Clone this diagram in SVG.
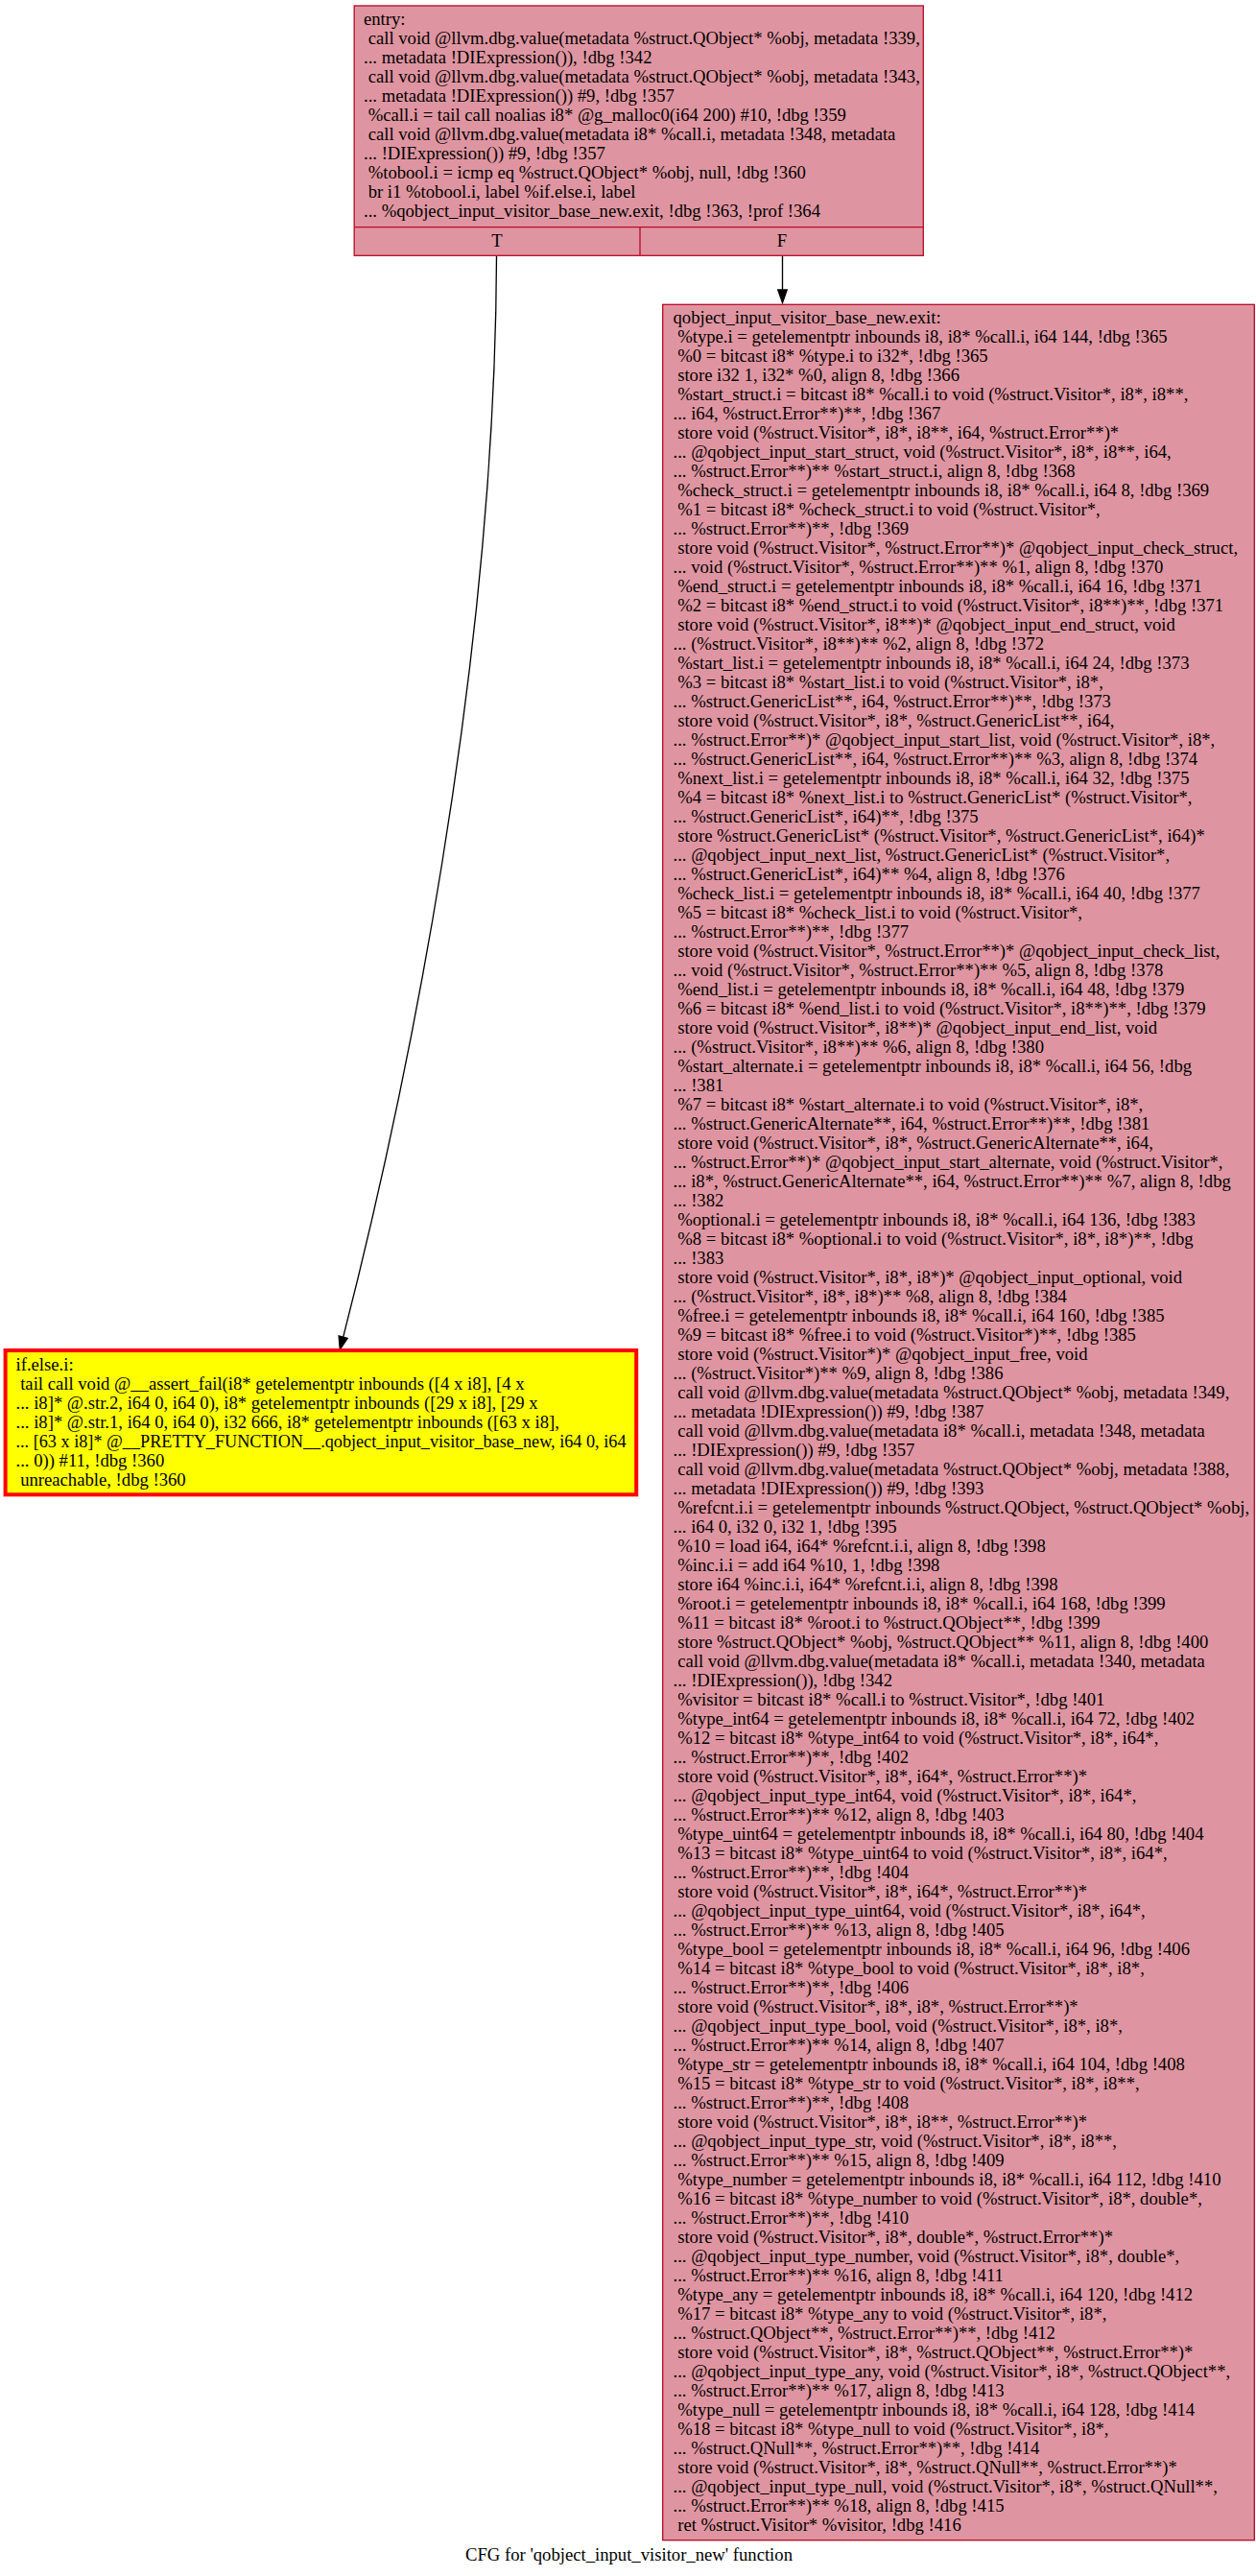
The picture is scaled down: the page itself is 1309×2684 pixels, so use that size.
<svg xmlns="http://www.w3.org/2000/svg" width="1309" height="2684" viewBox="0 0 1309 2684" xml:space="preserve">
<style>
text{font-family:"Liberation Serif","Times New Roman",serif;font-size:18.67px;fill:#000;white-space:pre}
.blk{fill:#df95a1;stroke:#b70d28;stroke-width:1.33}
.sep{stroke:#b70d28;stroke-width:1.33;fill:none}
.warn{fill:#ffff00;stroke:#ff0000;stroke-width:4}
.edge{fill:none;stroke:#000;stroke-width:1.33}
.head{fill:#000;stroke:#000;stroke-width:1.33}
.mid{text-anchor:middle}
</style>
<rect width="1309" height="2684" fill="#fff"/>
<g id="edges">
<path class="edge" d="M517.5,267 C516,700 420,1150 357.7,1393.1"/>
<polygon class="head" points="362.2,1394.3 354.3,1406 353.1,1391.9"/>
<path class="edge" d="M815.5,267 L815.5,302"/>
<polygon class="head" points="810.8,302 815.5,315.5 820.2,302"/>
</g>
<g id="entry">
<rect class="blk" x="369.2" y="6" width="593.1" height="260.3"/>
<path class="sep" d="M369.2,236.7 H962.3 M667,236.7 V266.3"/>
<text x="379" y="26">entry:</text>
<text x="379" y="46"> call void @llvm.dbg.value(metadata %struct.QObject* %obj, metadata !339,</text>
<text x="379" y="66">... metadata !DIExpression()), !dbg !342</text>
<text x="379" y="86"> call void @llvm.dbg.value(metadata %struct.QObject* %obj, metadata !343,</text>
<text x="379" y="106">... metadata !DIExpression()) #9, !dbg !357</text>
<text x="379" y="126"> %call.i = tail call noalias i8* @g_malloc0(i64 200) #10, !dbg !359</text>
<text x="379" y="146"> call void @llvm.dbg.value(metadata i8* %call.i, metadata !348, metadata</text>
<text x="379" y="166">... !DIExpression()) #9, !dbg !357</text>
<text x="379" y="186"> %tobool.i = icmp eq %struct.QObject* %obj, null, !dbg !360</text>
<text x="379" y="206"> br i1 %tobool.i, label %if.else.i, label</text>
<text x="379" y="226">... %qobject_input_visitor_base_new.exit, !dbg !363, !prof !364</text>
<text class="mid" x="518" y="257">T</text>
<text class="mid" x="815" y="257">F</text>
</g>
<g id="if_else_i">
<rect class="warn" x="5.6" y="1407" width="657.6" height="150.3"/>
<text x="16.5" y="1427.5">if.else.i:</text>
<text x="16.5" y="1447.5"> tail call void @__assert_fail(i8* getelementptr inbounds ([4 x i8], [4 x</text>
<text x="16.5" y="1467.5">... i8]* @.str.2, i64 0, i64 0), i8* getelementptr inbounds ([29 x i8], [29 x</text>
<text x="16.5" y="1487.5">... i8]* @.str.1, i64 0, i64 0), i32 666, i8* getelementptr inbounds ([63 x i8],</text>
<text x="16.5" y="1507.5" textLength="636" lengthAdjust="spacingAndGlyphs">... [63 x i8]* @__PRETTY_FUNCTION__.qobject_input_visitor_base_new, i64 0, i64</text>
<text x="16.5" y="1527.5">... 0)) #11, !dbg !360</text>
<text x="16.5" y="1547.5"> unreachable, !dbg !360</text>
</g>
<g id="qobject_input_visitor_base_new_exit">
<rect class="blk" x="690.7" y="317.3" width="616.6" height="2329.4"/>
<text x="701.5" y="337.4">qobject_input_visitor_base_new.exit:</text>
<text x="701.5" y="357.4"> %type.i = getelementptr inbounds i8, i8* %call.i, i64 144, !dbg !365</text>
<text x="701.5" y="377.4"> %0 = bitcast i8* %type.i to i32*, !dbg !365</text>
<text x="701.5" y="397.4"> store i32 1, i32* %0, align 8, !dbg !366</text>
<text x="701.5" y="417.4"> %start_struct.i = bitcast i8* %call.i to void (%struct.Visitor*, i8*, i8**,</text>
<text x="701.5" y="437.4">... i64, %struct.Error**)**, !dbg !367</text>
<text x="701.5" y="457.4"> store void (%struct.Visitor*, i8*, i8**, i64, %struct.Error**)*</text>
<text x="701.5" y="477.4">... @qobject_input_start_struct, void (%struct.Visitor*, i8*, i8**, i64,</text>
<text x="701.5" y="497.4">... %struct.Error**)** %start_struct.i, align 8, !dbg !368</text>
<text x="701.5" y="517.4"> %check_struct.i = getelementptr inbounds i8, i8* %call.i, i64 8, !dbg !369</text>
<text x="701.5" y="537.4"> %1 = bitcast i8* %check_struct.i to void (%struct.Visitor*,</text>
<text x="701.5" y="557.4">... %struct.Error**)**, !dbg !369</text>
<text x="701.5" y="577.4"> store void (%struct.Visitor*, %struct.Error**)* @qobject_input_check_struct,</text>
<text x="701.5" y="597.4">... void (%struct.Visitor*, %struct.Error**)** %1, align 8, !dbg !370</text>
<text x="701.5" y="617.4"> %end_struct.i = getelementptr inbounds i8, i8* %call.i, i64 16, !dbg !371</text>
<text x="701.5" y="637.4"> %2 = bitcast i8* %end_struct.i to void (%struct.Visitor*, i8**)**, !dbg !371</text>
<text x="701.5" y="657.4"> store void (%struct.Visitor*, i8**)* @qobject_input_end_struct, void</text>
<text x="701.5" y="677.4">... (%struct.Visitor*, i8**)** %2, align 8, !dbg !372</text>
<text x="701.5" y="697.4"> %start_list.i = getelementptr inbounds i8, i8* %call.i, i64 24, !dbg !373</text>
<text x="701.5" y="717.4"> %3 = bitcast i8* %start_list.i to void (%struct.Visitor*, i8*,</text>
<text x="701.5" y="737.4">... %struct.GenericList**, i64, %struct.Error**)**, !dbg !373</text>
<text x="701.5" y="757.4"> store void (%struct.Visitor*, i8*, %struct.GenericList**, i64,</text>
<text x="701.5" y="777.4">... %struct.Error**)* @qobject_input_start_list, void (%struct.Visitor*, i8*,</text>
<text x="701.5" y="797.4">... %struct.GenericList**, i64, %struct.Error**)** %3, align 8, !dbg !374</text>
<text x="701.5" y="817.4"> %next_list.i = getelementptr inbounds i8, i8* %call.i, i64 32, !dbg !375</text>
<text x="701.5" y="837.4"> %4 = bitcast i8* %next_list.i to %struct.GenericList* (%struct.Visitor*,</text>
<text x="701.5" y="857.4">... %struct.GenericList*, i64)**, !dbg !375</text>
<text x="701.5" y="877.4"> store %struct.GenericList* (%struct.Visitor*, %struct.GenericList*, i64)*</text>
<text x="701.5" y="897.4">... @qobject_input_next_list, %struct.GenericList* (%struct.Visitor*,</text>
<text x="701.5" y="917.4">... %struct.GenericList*, i64)** %4, align 8, !dbg !376</text>
<text x="701.5" y="937.4"> %check_list.i = getelementptr inbounds i8, i8* %call.i, i64 40, !dbg !377</text>
<text x="701.5" y="957.4"> %5 = bitcast i8* %check_list.i to void (%struct.Visitor*,</text>
<text x="701.5" y="977.4">... %struct.Error**)**, !dbg !377</text>
<text x="701.5" y="997.4"> store void (%struct.Visitor*, %struct.Error**)* @qobject_input_check_list,</text>
<text x="701.5" y="1017.4">... void (%struct.Visitor*, %struct.Error**)** %5, align 8, !dbg !378</text>
<text x="701.5" y="1037.4"> %end_list.i = getelementptr inbounds i8, i8* %call.i, i64 48, !dbg !379</text>
<text x="701.5" y="1057.4"> %6 = bitcast i8* %end_list.i to void (%struct.Visitor*, i8**)**, !dbg !379</text>
<text x="701.5" y="1077.4"> store void (%struct.Visitor*, i8**)* @qobject_input_end_list, void</text>
<text x="701.5" y="1097.4">... (%struct.Visitor*, i8**)** %6, align 8, !dbg !380</text>
<text x="701.5" y="1117.4"> %start_alternate.i = getelementptr inbounds i8, i8* %call.i, i64 56, !dbg</text>
<text x="701.5" y="1137.4">... !381</text>
<text x="701.5" y="1157.4"> %7 = bitcast i8* %start_alternate.i to void (%struct.Visitor*, i8*,</text>
<text x="701.5" y="1177.4">... %struct.GenericAlternate**, i64, %struct.Error**)**, !dbg !381</text>
<text x="701.5" y="1197.4"> store void (%struct.Visitor*, i8*, %struct.GenericAlternate**, i64,</text>
<text x="701.5" y="1217.4">... %struct.Error**)* @qobject_input_start_alternate, void (%struct.Visitor*,</text>
<text x="701.5" y="1237.4">... i8*, %struct.GenericAlternate**, i64, %struct.Error**)** %7, align 8, !dbg</text>
<text x="701.5" y="1257.4">... !382</text>
<text x="701.5" y="1277.4"> %optional.i = getelementptr inbounds i8, i8* %call.i, i64 136, !dbg !383</text>
<text x="701.5" y="1297.4"> %8 = bitcast i8* %optional.i to void (%struct.Visitor*, i8*, i8*)**, !dbg</text>
<text x="701.5" y="1317.4">... !383</text>
<text x="701.5" y="1337.4"> store void (%struct.Visitor*, i8*, i8*)* @qobject_input_optional, void</text>
<text x="701.5" y="1357.4">... (%struct.Visitor*, i8*, i8*)** %8, align 8, !dbg !384</text>
<text x="701.5" y="1377.4"> %free.i = getelementptr inbounds i8, i8* %call.i, i64 160, !dbg !385</text>
<text x="701.5" y="1397.4"> %9 = bitcast i8* %free.i to void (%struct.Visitor*)**, !dbg !385</text>
<text x="701.5" y="1417.4"> store void (%struct.Visitor*)* @qobject_input_free, void</text>
<text x="701.5" y="1437.4">... (%struct.Visitor*)** %9, align 8, !dbg !386</text>
<text x="701.5" y="1457.4"> call void @llvm.dbg.value(metadata %struct.QObject* %obj, metadata !349,</text>
<text x="701.5" y="1477.4">... metadata !DIExpression()) #9, !dbg !387</text>
<text x="701.5" y="1497.4"> call void @llvm.dbg.value(metadata i8* %call.i, metadata !348, metadata</text>
<text x="701.5" y="1517.4">... !DIExpression()) #9, !dbg !357</text>
<text x="701.5" y="1537.4"> call void @llvm.dbg.value(metadata %struct.QObject* %obj, metadata !388,</text>
<text x="701.5" y="1557.4">... metadata !DIExpression()) #9, !dbg !393</text>
<text x="701.5" y="1577.4"> %refcnt.i.i = getelementptr inbounds %struct.QObject, %struct.QObject* %obj,</text>
<text x="701.5" y="1597.4">... i64 0, i32 0, i32 1, !dbg !395</text>
<text x="701.5" y="1617.4"> %10 = load i64, i64* %refcnt.i.i, align 8, !dbg !398</text>
<text x="701.5" y="1637.4"> %inc.i.i = add i64 %10, 1, !dbg !398</text>
<text x="701.5" y="1657.4"> store i64 %inc.i.i, i64* %refcnt.i.i, align 8, !dbg !398</text>
<text x="701.5" y="1677.4"> %root.i = getelementptr inbounds i8, i8* %call.i, i64 168, !dbg !399</text>
<text x="701.5" y="1697.4"> %11 = bitcast i8* %root.i to %struct.QObject**, !dbg !399</text>
<text x="701.5" y="1717.4"> store %struct.QObject* %obj, %struct.QObject** %11, align 8, !dbg !400</text>
<text x="701.5" y="1737.4"> call void @llvm.dbg.value(metadata i8* %call.i, metadata !340, metadata</text>
<text x="701.5" y="1757.4">... !DIExpression()), !dbg !342</text>
<text x="701.5" y="1777.4"> %visitor = bitcast i8* %call.i to %struct.Visitor*, !dbg !401</text>
<text x="701.5" y="1797.4"> %type_int64 = getelementptr inbounds i8, i8* %call.i, i64 72, !dbg !402</text>
<text x="701.5" y="1817.4"> %12 = bitcast i8* %type_int64 to void (%struct.Visitor*, i8*, i64*,</text>
<text x="701.5" y="1837.4">... %struct.Error**)**, !dbg !402</text>
<text x="701.5" y="1857.4"> store void (%struct.Visitor*, i8*, i64*, %struct.Error**)*</text>
<text x="701.5" y="1877.4">... @qobject_input_type_int64, void (%struct.Visitor*, i8*, i64*,</text>
<text x="701.5" y="1897.4">... %struct.Error**)** %12, align 8, !dbg !403</text>
<text x="701.5" y="1917.4"> %type_uint64 = getelementptr inbounds i8, i8* %call.i, i64 80, !dbg !404</text>
<text x="701.5" y="1937.4"> %13 = bitcast i8* %type_uint64 to void (%struct.Visitor*, i8*, i64*,</text>
<text x="701.5" y="1957.4">... %struct.Error**)**, !dbg !404</text>
<text x="701.5" y="1977.4"> store void (%struct.Visitor*, i8*, i64*, %struct.Error**)*</text>
<text x="701.5" y="1997.4">... @qobject_input_type_uint64, void (%struct.Visitor*, i8*, i64*,</text>
<text x="701.5" y="2017.4">... %struct.Error**)** %13, align 8, !dbg !405</text>
<text x="701.5" y="2037.4"> %type_bool = getelementptr inbounds i8, i8* %call.i, i64 96, !dbg !406</text>
<text x="701.5" y="2057.4"> %14 = bitcast i8* %type_bool to void (%struct.Visitor*, i8*, i8*,</text>
<text x="701.5" y="2077.4">... %struct.Error**)**, !dbg !406</text>
<text x="701.5" y="2097.4"> store void (%struct.Visitor*, i8*, i8*, %struct.Error**)*</text>
<text x="701.5" y="2117.4">... @qobject_input_type_bool, void (%struct.Visitor*, i8*, i8*,</text>
<text x="701.5" y="2137.4">... %struct.Error**)** %14, align 8, !dbg !407</text>
<text x="701.5" y="2157.4"> %type_str = getelementptr inbounds i8, i8* %call.i, i64 104, !dbg !408</text>
<text x="701.5" y="2177.4"> %15 = bitcast i8* %type_str to void (%struct.Visitor*, i8*, i8**,</text>
<text x="701.5" y="2197.4">... %struct.Error**)**, !dbg !408</text>
<text x="701.5" y="2217.4"> store void (%struct.Visitor*, i8*, i8**, %struct.Error**)*</text>
<text x="701.5" y="2237.4">... @qobject_input_type_str, void (%struct.Visitor*, i8*, i8**,</text>
<text x="701.5" y="2257.4">... %struct.Error**)** %15, align 8, !dbg !409</text>
<text x="701.5" y="2277.4"> %type_number = getelementptr inbounds i8, i8* %call.i, i64 112, !dbg !410</text>
<text x="701.5" y="2297.4"> %16 = bitcast i8* %type_number to void (%struct.Visitor*, i8*, double*,</text>
<text x="701.5" y="2317.4">... %struct.Error**)**, !dbg !410</text>
<text x="701.5" y="2337.4"> store void (%struct.Visitor*, i8*, double*, %struct.Error**)*</text>
<text x="701.5" y="2357.4">... @qobject_input_type_number, void (%struct.Visitor*, i8*, double*,</text>
<text x="701.5" y="2377.4">... %struct.Error**)** %16, align 8, !dbg !411</text>
<text x="701.5" y="2397.4"> %type_any = getelementptr inbounds i8, i8* %call.i, i64 120, !dbg !412</text>
<text x="701.5" y="2417.4"> %17 = bitcast i8* %type_any to void (%struct.Visitor*, i8*,</text>
<text x="701.5" y="2437.4">... %struct.QObject**, %struct.Error**)**, !dbg !412</text>
<text x="701.5" y="2457.4"> store void (%struct.Visitor*, i8*, %struct.QObject**, %struct.Error**)*</text>
<text x="701.5" y="2477.4">... @qobject_input_type_any, void (%struct.Visitor*, i8*, %struct.QObject**,</text>
<text x="701.5" y="2497.4">... %struct.Error**)** %17, align 8, !dbg !413</text>
<text x="701.5" y="2517.4"> %type_null = getelementptr inbounds i8, i8* %call.i, i64 128, !dbg !414</text>
<text x="701.5" y="2537.4"> %18 = bitcast i8* %type_null to void (%struct.Visitor*, i8*,</text>
<text x="701.5" y="2557.4">... %struct.QNull**, %struct.Error**)**, !dbg !414</text>
<text x="701.5" y="2577.4"> store void (%struct.Visitor*, i8*, %struct.QNull**, %struct.Error**)*</text>
<text x="701.5" y="2597.4">... @qobject_input_type_null, void (%struct.Visitor*, i8*, %struct.QNull**,</text>
<text x="701.5" y="2617.4">... %struct.Error**)** %18, align 8, !dbg !415</text>
<text x="701.5" y="2637.4"> ret %struct.Visitor* %visitor, !dbg !416</text>
</g>
<g id="title">
<text class="mid" x="655.5" y="2668">CFG for 'qobject_input_visitor_new' function</text>
</g>
</svg>
